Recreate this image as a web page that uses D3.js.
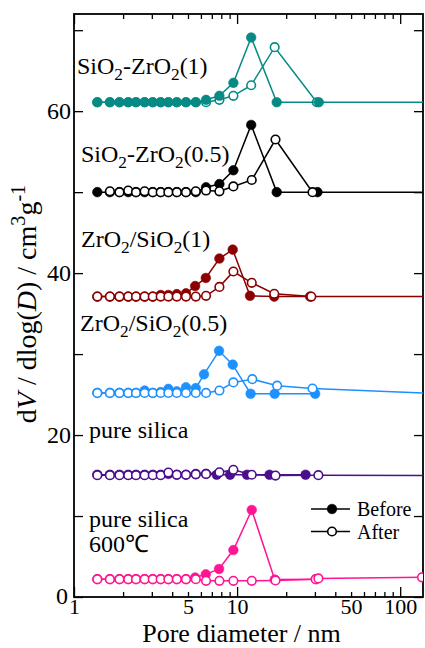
<!DOCTYPE html>
<html>
<head>
<meta charset="utf-8">
<script src="https://cdn.jsdelivr.net/npm/d3@7"></script>
<style>
  body { margin: 0; background: #fff; }
  svg text { font-family: "Liberation Serif", "Times New Roman", serif; }
</style>
</head>
<body>
<svg id="chart" width="425" height="648"></svg>
<script>
// pore diameters (nm) of the measurement grid at small sizes
const lowPores = [1.39, 1.66, 1.90, 2.15, 2.40, 2.71, 3.04, 3.40, 3.79, 4.27, 4.86, 5.58];

// SiO2-ZrO2(1)
const szOneBefore = lowPores.map(d => [d, 61.1]).concat([[6.45, 61.4], [7.79, 61.9], [9.49, 63.5], [12.2, 69.1], [17.5, 61.1], [31.7, 61.1]]);
const szOneAfter = lowPores.map(d => [d, 61.1]).concat([[6.45, 61.1], [7.79, 61.4], [9.49, 61.9], [12.2, 63.2], [17.0, 67.9], [30.8, 61.1], [160, 61.1]]);

// SiO2-ZrO2(0.5)
const szHalfBefore = lowPores.map(d => [d, 50.0]).concat([[6.45, 50.6], [7.79, 51.0], [9.49, 52.7], [12.2, 58.3], [17.5, 50.0], [31.1, 50.0]]);
const szHalfAfter = [[1.66, 50.1], [1.90, 50.0], [2.15, 50.2], [2.40, 50.0], [2.71, 50.1], [3.04, 50.0], [3.40, 50.0],
  [3.79, 50.0], [4.27, 50.0], [4.86, 50.0], [5.58, 50.1], [6.45, 50.2], [7.79, 50.1], [9.49, 50.7], [12.3, 51.5],
  [17.2, 56.5], [29.0, 50.0], [160, 50.0]];

// ZrO2/SiO2(1)
const zsOneBefore = [[1.39, 37.1], [1.66, 37.1], [1.90, 37.1], [2.15, 37.1], [2.40, 37.1], [2.71, 37.1], [3.04, 37.1],
  [3.40, 37.3], [3.79, 37.3], [4.27, 37.4], [4.86, 37.5], [5.53, 38.4], [6.43, 39.4], [7.79, 41.8], [9.4, 42.9],
  [12.0, 37.2], [16.9, 37.1], [28.0, 37.1]];
const zsOneAfter = lowPores.map(d => [d, 37.1]).concat([[6.45, 37.2], [7.79, 38.3], [9.49, 40.2], [12.3, 38.8], [16.9, 37.45], [28.5, 37.1], [160, 37.1]]);

// ZrO2/SiO2(0.5)
const zsHalfBefore = [[1.39, 25.2], [1.66, 25.2], [1.90, 25.2], [2.15, 25.2], [2.40, 25.2], [2.71, 25.5], [3.04, 25.2],
  [3.40, 25.3], [3.79, 25.7], [4.27, 25.4], [4.86, 25.9], [5.58, 25.8], [6.27, 27.5], [7.75, 30.4], [9.4, 28.7],
  [12.1, 25.1], [17.0, 25.1], [30.1, 25.1]];
const zsHalfAfter = lowPores.map(d => [d, 25.2]).concat([[6.45, 25.2], [7.79, 25.5], [9.49, 26.5], [12.4, 26.9], [17.6, 26.1], [29.0, 25.75], [160, 25.15]]);

// pure silica
const silBefore = [[1.39, 15.1], [1.66, 15.1], [1.90, 15.1], [2.15, 15.1], [2.40, 15.1], [2.71, 15.1], [3.04, 15.1],
  [3.40, 15.1], [3.79, 15.2], [4.27, 15.1], [4.86, 15.1], [5.58, 15.2], [6.45, 15.2], [7.5, 15.1], [9.06, 15.1],
  [11.5, 15.1], [15.8, 15.1], [26.3, 15.1]];
const silAfter = [[1.39, 15.05], [1.66, 15.05], [1.90, 15.05], [2.15, 15.05], [2.40, 15.05], [2.71, 15.05], [3.04, 15.05],
  [3.40, 15.05], [3.79, 15.37], [4.27, 15.1], [4.86, 15.1], [5.58, 15.15], [6.45, 15.2], [7.79, 15.4], [9.49, 15.7],
  [12.3, 15.1], [17.2, 15.0], [31.5, 15.05], [160, 15.0]];

// pure silica 600 C
const sil600Before = lowPores.slice(0, 11).map(d => [d, 2.2]).concat([[5.53, 2.4], [6.43, 2.8], [7.75, 3.46], [9.49, 5.8], [12.3, 10.75], [17.0, 2.15], [30.5, 2.2]]);
const sil600After = lowPores.map(d => [d, 2.2]).concat([[6.45, 2.0], [7.79, 2.0], [9.49, 2.0], [12.3, 2.0], [17.2, 2.05], [30.3, 2.2], [31.5, 2.3], [136, 2.43]]);

const sampleColors = ["#068a84", "#000000", "#8b0000", "#1e90ff", "#4b0e8c", "#ff1493"];
const beforeSeries = [szOneBefore, szHalfBefore, zsOneBefore, zsHalfBefore, silBefore, sil600Before];
const afterSeries = [szOneAfter, szHalfAfter, zsOneAfter, zsHalfAfter, silAfter, sil600After];
const afterOnTop = [false, true, true, true, true, true];

const sampleLabels = [
  [[["SiO"], ["2", "sub"], ["-ZrO"], ["2", "sub"], ["(1)"]]],
  [[["SiO"], ["2", "sub"], ["-ZrO"], ["2", "sub"], ["(0.5)"]]],
  [[["ZrO"], ["2", "sub"], ["/SiO"], ["2", "sub"], ["(1)"]]],
  [[["ZrO"], ["2", "sub"], ["/SiO"], ["2", "sub"], ["(0.5)"]]],
  [[["pure silica"]]],
  [[["pure silica"]], [["600℃"]]]
];
// label anchor (px, inside the plot) : left, baseline
const labelPos = [[3, 60], [7, 148], [7, 233], [6, 317], [15, 424], [15, 513]];

const xTickValues = [1, 2, 3, 4, 5, 6, 7, 8, 9, 10, 20, 30, 40, 50, 60, 70, 80, 90, 100];
const xTickLabels = [1, 5, 10, 50, 100];
const yTickValues = [0, 10, 20, 30, 40, 50, 60, 70];
const yTickLabels = [0, 20, 40, 60];

const margin = {top: 14, right: 2, bottom: 51, left: 74};
const W = 425, H = 648;
const iw = W - margin.left - margin.right;
const ih = H - margin.top - margin.bottom;

const svg = d3.select("#chart");
const g = svg.append("g").attr("transform", `translate(${margin.left},${margin.top})`);

const x = d3.scaleLog().domain([1, 138]).range([0, iw]);
const y = d3.scaleLinear().domain([0, 72]).range([ih, 0]);

svg.append("defs").append("clipPath").attr("id", "plot")
  .append("rect").attr("width", iw).attr("height", ih);

// axes, ticks pointing inward on every side
const isDecade = d => Math.abs(Math.log10(d) - Math.round(Math.log10(d))) < 1e-9;
const fmtX = d => xTickLabels.includes(d) ? d : "";
const fmtY = d => yTickLabels.includes(d) ? d : "";

const xAxisBottom = g.append("g").attr("transform", `translate(0,${ih})`)
  .call(d3.axisBottom(x).tickValues(xTickValues).tickFormat(fmtX).tickSizeInner(-5).tickSizeOuter(0).tickPadding(1));
xAxisBottom.selectAll(".tick line").attr("y2", d => isDecade(d) ? -10 : -5);
xAxisBottom.selectAll(".tick text").attr("font-size", 22);
const xAxisTop = g.append("g")
  .call(d3.axisTop(x).tickValues(xTickValues).tickFormat("").tickSizeInner(-5).tickSizeOuter(0));
xAxisTop.selectAll(".tick line").attr("y2", d => isDecade(d) ? 10 : 5);
const yAxisLeft = g.append("g")
  .call(d3.axisLeft(y).tickValues(yTickValues).tickFormat(fmtY).tickSizeInner(-9).tickSizeOuter(0).tickPadding(3));
yAxisLeft.selectAll(".tick text").attr("font-size", 24);
// the zero sits a little further left, clear of the "1" below it
yAxisLeft.selectAll(".tick text").filter(d => d === 0).attr("x", -6).attr("dy", "0.25em");
g.append("g").attr("transform", `translate(${iw},0)`)
  .call(d3.axisRight(y).tickValues(yTickValues).tickFormat("").tickSizeInner(-9).tickSizeOuter(0));

g.selectAll(".domain").remove();
g.selectAll(".tick text").filter(function() { return this.textContent === ""; }).remove();
g.selectAll(".tick line").attr("stroke", "#000").attr("stroke-width", 1.3);
g.selectAll(".tick text").attr("fill", "#000")
  .style("font-family", '"Liberation Serif", "Times New Roman", serif');

g.append("rect").attr("width", iw).attr("height", ih)
  .attr("fill", "none").attr("stroke", "#000").attr("stroke-width", 1.8);

// data
const line = d3.line().x(d => x(d[0])).y(d => y(d[1]));
const plot = g.append("g").attr("clip-path", "url(#plot)");

function drawSeries(data, color, filled) {
  const s = plot.append("g");
  s.append("path").datum(data).attr("d", line)
    .attr("fill", "none").attr("stroke", color).attr("stroke-width", 1.5);
  s.selectAll("circle").data(data).join("circle")
    .attr("cx", d => x(d[0])).attr("cy", d => y(d[1]))
    .attr("r", filled ? 4.8 : 4.3)
    .attr("fill", filled ? color : "#fff")
    .attr("stroke", color).attr("stroke-width", filled ? 0.6 : 1.6);
}

sampleColors.forEach((c, i) => {
  if (afterOnTop[i]) {
    drawSeries(beforeSeries[i], c, true);
    drawSeries(afterSeries[i], c, false);
  } else {
    drawSeries(afterSeries[i], c, false);
    drawSeries(beforeSeries[i], c, true);
  }
});

// rich text helper for sub/superscripts
function richText(sel, parts, size) {
  let shift = 0;
  parts.forEach(p => {
    const kind = p[1];
    const target = kind === "sub" ? size * 0.25 : kind === "sup" ? -size * 0.4 : 0;
    const t = sel.append("tspan").text(p[0]).attr("dy", target - shift);
    shift = target;
    if (kind === "sub" || kind === "sup") t.attr("font-size", size * 0.72);
    if (kind === "italic") t.attr("font-style", "italic");
  });
}

sampleLabels.forEach((lines, i) => {
  lines.forEach((parts, k) => {
    const t = g.append("text")
      .attr("x", labelPos[i][0]).attr("y", labelPos[i][1] + k * 25)
      .attr("font-size", 24).attr("fill", "#000");
    richText(t, parts, 24);
  });
});

// legend
const legend = g.append("g").attr("transform", `translate(${iw - 112},${495})`);
[["Before", true], ["After", false]].forEach((e, i) => {
  const row = legend.append("g").attr("transform", `translate(0,${i * 22.5})`);
  row.append("line").attr("x1", 0).attr("x2", 39).attr("stroke", "#000").attr("stroke-width", 1.5);
  row.append("circle").attr("cx", 21).attr("r", e[1] ? 4.8 : 4.3)
    .attr("fill", e[1] ? "#000" : "#fff").attr("stroke", "#000").attr("stroke-width", e[1] ? 0.6 : 1.6);
  row.append("text").attr("x", 46).attr("y", 7).attr("font-size", 20).text(e[0]);
});

// axis titles
svg.append("text")
  .attr("x", margin.left + iw / 2 - 7).attr("y", 642)
  .attr("text-anchor", "middle").attr("font-size", 26)
  .text("Pore diameter / nm");

const yt = svg.append("text")
  .attr("transform", "translate(36,304) rotate(-90)")
  .attr("text-anchor", "middle").attr("font-size", 28);
richText(yt, [["d"], ["V", "italic"], [" / dlog("], ["D", "italic"], [") / cm"], ["3", "sup"], ["g"], ["-1", "sup"]], 28);
</script>
</body>
</html>
